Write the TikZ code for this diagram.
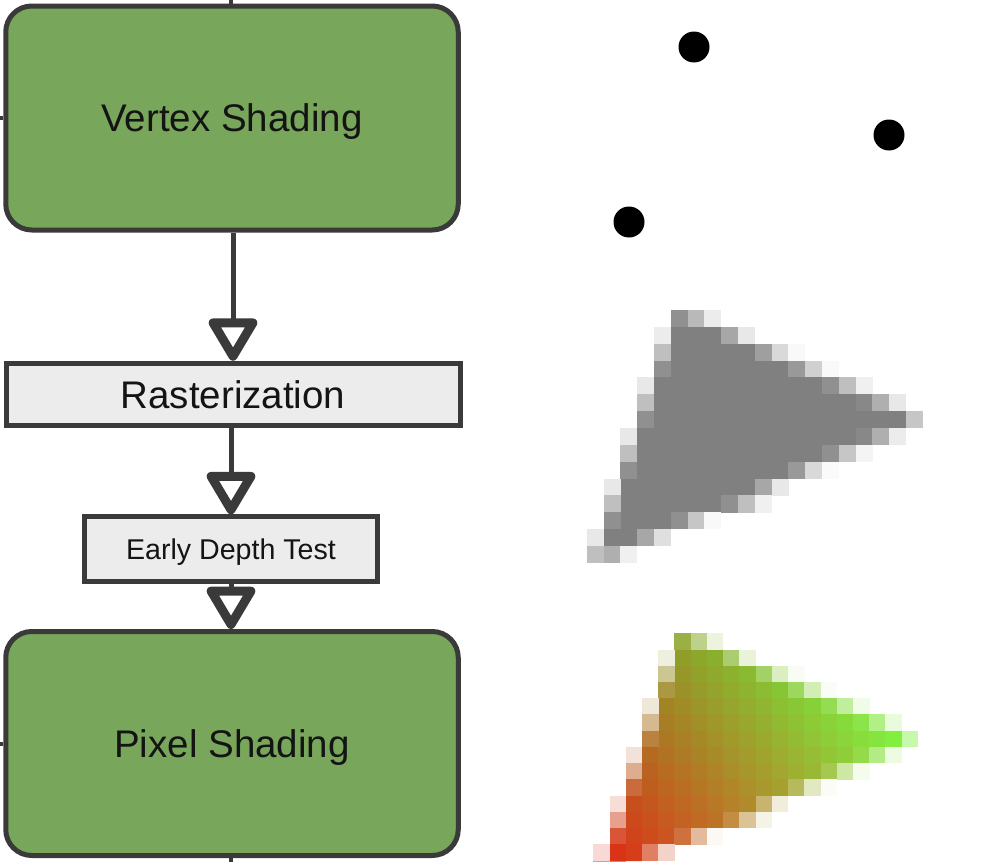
\documentclass[tikz,border=0pt]{standalone}
\usepackage{fontspec}
\setmainfont{Liberation Sans}
\usetikzlibrary{arrows.meta}
\definecolor{edgec}{HTML}{3A3A3A}
\definecolor{greenfill}{HTML}{78A65A}
\definecolor{boxgray}{HTML}{ECECEC}
\definecolor{txt}{HTML}{141414}
\newcommand\pixrows{%
 0/99/0/{5/.87,6/.55,7/.15},
 1/5/7/{4/.15,8/.69,9/.18},
 2/5/9/{4/.5,10/.75,11/.3,12/.05},
 3/5/11/{4/.87,12/.8,13/.37,14/.05},
 4/4/13/{3/.18,14/.87,15/.5,16/.12},
 5/4/15/{3/.5,16/.93,17/.63,18/.18},
 6/4/18/{3/.87,19/.45},
 7/3/15/{2/.18,16/.93,17/.63,18/.15},
 8/3/13/{2/.5,14/.87,15/.45,16/.09},
 9/3/11/{2/.87,12/.8,13/.3,14/.04},
 10/2/9/{1/.18,10/.69,11/.18},
 11/2/7/{1/.5,8/.87,9/.5,10/.12},
 12/2/4/{1/.87,5/.87,6/.45,7/.05},
 13/1/2/{0/.18,3/.69,4/.25},
 14/99/0/{0/.5,1/.63,2/.12}}
% gray cell
\newcommand\graycell[3]{%
  \pgfmathsetmacro\pct{50*#3}%
  \fill[black!\pct] (586.7+16.8*#2,310+16.85*#1) rectangle ++(17.1,17.15);}
% colored cell
\newcommand\colcell[3]{%
  \pgfmathsetmacro\wA{max(0,min(1,(-8*(#2+.5)-20*(#1+.5)+300)/260))}%
  \pgfmathsetmacro\wB{max(0,min(1,(15*(#2+.5)+5*(#1+.5)-75)/260))}%
  \pgfmathsetmacro\wC{max(0,1-\wA-\wB)}%
  \pgfmathsetmacro\wS{\wA+\wB+\wC}%
  \pgfmathsetmacro\colR{min(1,(\wA*.54+\wB*.50+\wC*.90)/\wS)}%
  \pgfmathsetmacro\colG{min(1,(\wA*.64+\wB*.97+\wC*.12)/\wS)}%
  \pgfmathsetmacro\colB{min(1,(\wA*.16+\wB*.26+\wC*.08)/\wS)}%
  \definecolor{pc}{rgb}{\colR,\colG,\colB}%
  \pgfmathsetmacro\pct{100*#3}%
  \fill[pc!\pct!white] (593.3+16.23*#2,633.3+16.23*#1) rectangle ++(16.53,16.53);}
\begin{document}
\begin{tikzpicture}[x=1pt,y=-1pt,
  stage/.style={draw=edgec, line width=5pt, fill=greenfill, rounded corners=26pt,
    inner sep=0pt, minimum width=452.5pt, minimum height=224pt,
    font=\fontsize{38.5}{40}\selectfont, text=txt, text height=27.6pt, text depth=0pt},
  substage/.style={draw=edgec, line width=5pt, fill=boxgray, inner sep=0pt,
    text=txt, text depth=0pt},
  conn/.style={draw=edgec, line width=5pt,
    -{Triangle[length=47pt, width=53pt, line width=9pt, fill=white, round=false]}},
  stub/.style={draw=edgec, line width=4pt},
  dot/.style={circle, fill=black, inner sep=0pt, minimum size=31pt}]
\useasboundingbox (0,0) rectangle (986,862);

% stages
\node[stage] (vs) at (232,118) {Vertex Shading};
\node[substage, minimum width=454pt, minimum height=62.5pt,
  font=\fontsize{38.5}{40}\selectfont, text height=27.6pt] (ra) at (233,394.5) {Rasterization};
\node[substage, minimum width=293pt, minimum height=64.5pt,
  font=\fontsize{28.6}{30}\selectfont, text height=20.5pt] (ed) at (231,549) {Early Depth Test};
\node[stage] (ps) at (232,743.5) {Pixel Shading};

% connectors
\draw[conn] (vs.south -| ra.north) -- (ra.north);
\draw[conn] (ra.south -| ed.north) -- (ed.north);
\draw[conn] (ed.south) -- (ed.south |- ps.north);

% stubs
\coordinate (topend) at (231,0);
\coordinate (botend) at (231,862);
\coordinate (lt1) at (0,118);
\coordinate (lt2) at (0,743.5);
\draw[stub] (topend) -- (topend |- vs.north);
\draw[stub] (ps.south -| botend) -- (botend);
\draw[stub] (lt1) -- (vs.west);
\draw[stub] (lt2) -- (ps.west);

% vertices
\node[dot] (d1) at (694,47) {};
\node[dot] (d2) at (889,135) {};
\node[dot] (d3) at (629,222) {};

% rasterized gray triangle
\foreach \rr/\aa/\bb/\parts in \pixrows {
  \ifnum\aa>\bb\else
    \foreach \cc in {\aa,...,\bb} {\graycell{\rr}{\cc}{1}}
  \fi
  \foreach \cc/\cov in \parts {\graycell{\rr}{\cc}{\cov}}
}

% shaded colored triangle
\begin{scope}
\clip (0,0) rectangle (986,862);
\foreach \rr/\aa/\bb/\parts in \pixrows {
  \ifnum\aa>\bb\else
    \foreach \cc in {\aa,...,\bb} {\colcell{\rr}{\cc}{1}}
  \fi
  \foreach \cc/\cov in \parts {\colcell{\rr}{\cc}{\cov}}
}
\end{scope}
\end{tikzpicture}
\end{document}
